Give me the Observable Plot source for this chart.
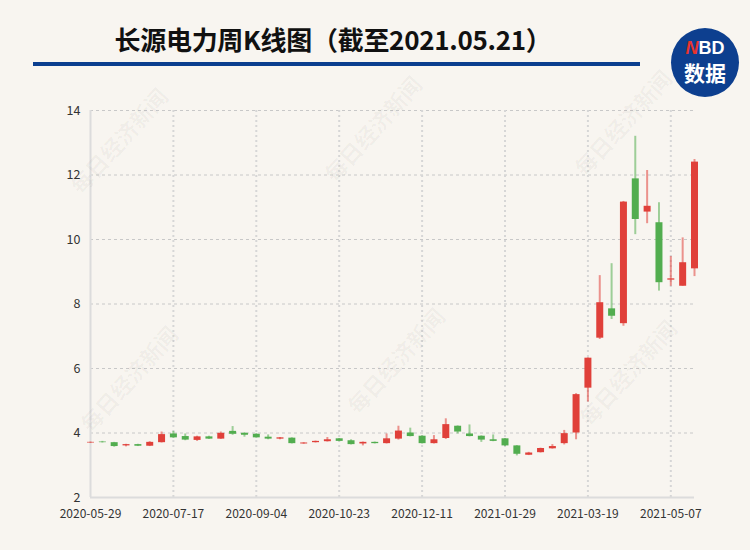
<!DOCTYPE html>
<html>
<head>
<meta charset="utf-8">
<script src="https://cdn.jsdelivr.net/npm/d3@7"></script>
<script src="https://cdn.jsdelivr.net/npm/@observablehq/plot@0.6"></script>
<style>
  html, body { margin: 0; padding: 0; }
  body { width: 750px; height: 550px; background: #f8f5f0; font-family: "Noto Sans CJK SC", "Noto Sans", sans-serif; }
  #wrap { position: relative; width: 750px; height: 550px; overflow: hidden; background: #f8f5f0; }
  #title { position: absolute; left: 0; width: 666px; top: 20px; text-align: center; font-size: 26px; font-weight: bold; color: #111; letter-spacing: -0.3px; }
  #rule { position: absolute; left: 33px; width: 607px; top: 62px; height: 4px; background: #0b3f8f; }
  #logo { position: absolute; left: 671px; top: 28px; width: 68px; height: 69px; border-radius: 50%; background: #0d3f8f; color: #fff; text-align: center; font-weight: bold; }
  #logo .nbd { position: absolute; top: 11px; left: 0; width: 68px; font-size: 18px; line-height: 18px; height: 18px; font-family: "Liberation Sans", sans-serif; }
  #logo .nbd span { color: #e8342c; font-style: italic; }
  #logo .sj { position: absolute; top: 33px; left: 0; width: 68px; font-size: 21px; line-height: 22px; height: 22px; }
  .wm { position: absolute; font-size: 22px; font-weight: bold; color: rgba(0,0,0,0.04); transform: translate(-50%, -50%) rotate(-48deg); white-space: nowrap; pointer-events: none; }
  #chart { position: absolute; left: 0; top: 95px; }
</style>
</head>
<body>
<div id="wrap">
  <div id="title">长源电力周K线图（截至2021.05.21）</div>
  <div id="rule"></div>
  <div id="logo"><div class="nbd"><span>N</span>BD</div><div class="sj">数据</div></div>
  <div id="chart"></div>
</div>
<script>
// Weekly dates (Friday)
const dates = [
  "2020-05-29","2020-06-05","2020-06-12","2020-06-19","2020-06-26","2020-07-03","2020-07-10","2020-07-17",
  "2020-07-24","2020-07-31","2020-08-07","2020-08-14","2020-08-21","2020-08-28","2020-09-04","2020-09-11",
  "2020-09-18","2020-09-25","2020-10-02","2020-10-09","2020-10-16","2020-10-23","2020-10-30","2020-11-06",
  "2020-11-13","2020-11-20","2020-11-27","2020-12-04","2020-12-11","2020-12-18","2020-12-25","2021-01-01",
  "2021-01-08","2021-01-15","2021-01-22","2021-01-29","2021-02-05","2021-02-12","2021-02-19","2021-02-26",
  "2021-03-05","2021-03-12","2021-03-19","2021-03-26","2021-04-02","2021-04-09","2021-04-16","2021-04-23",
  "2021-04-30","2021-05-07","2021-05-14","2021-05-21"
];
const opens = [
  3.69,3.72,3.70,3.60,3.64,3.59,3.70,3.97,3.89,3.77,3.88,3.81,4.05,3.99,3.96,3.87,
  3.81,3.84,3.66,3.70,3.73,3.82,3.76,3.66,3.71,3.67,3.81,4.00,3.90,3.67,3.83,4.21,
  3.97,3.90,3.79,3.82,3.60,3.31,3.39,3.51,3.67,4.00,5.39,6.94,7.85,7.39,11.88,10.85,
  10.52,8.74,8.55,9.09
];
const closes = [
  3.71,3.70,3.58,3.64,3.59,3.71,3.95,3.85,3.78,3.88,3.81,3.99,3.96,3.93,3.85,3.81,
  3.85,3.67,3.69,3.74,3.79,3.74,3.64,3.71,3.67,3.82,4.06,3.89,3.67,3.79,4.26,4.03,
  3.89,3.78,3.74,3.60,3.34,3.38,3.52,3.58,3.98,5.19,6.32,8.04,7.62,11.16,10.62,11.03,
  8.66,8.78,9.28,12.40
];
const highs = [
  3.72,3.74,3.71,3.65,3.65,3.73,4.03,4.05,3.97,3.90,3.90,4.03,4.20,4.01,3.98,3.94,
  3.86,3.85,3.70,3.75,3.86,3.83,3.79,3.72,3.72,3.97,4.21,4.15,3.91,3.92,4.44,4.22,
  4.25,3.91,3.94,3.83,3.61,3.40,3.53,3.64,4.08,5.22,6.33,8.88,9.25,11.18,13.20,12.14,
  11.14,9.47,10.05,12.48
];
const lows = [
  3.68,3.69,3.56,3.57,3.58,3.58,3.69,3.83,3.76,3.74,3.80,3.80,3.93,3.87,3.84,3.79,
  3.79,3.66,3.65,3.69,3.72,3.73,3.63,3.60,3.66,3.66,3.78,3.88,3.66,3.66,3.80,3.97,
  3.88,3.71,3.73,3.58,3.29,3.30,3.38,3.50,3.63,3.79,4.96,6.90,7.52,7.31,10.15,10.49,
  8.40,8.55,8.55,8.85
];
const tickLabels = ["2020-05-29","2020-07-17","2020-09-04","2020-10-23","2020-12-11","2021-01-29","2021-03-19","2021-05-07"];
const yTicks = [2,4,6,8,10,12,14];

const parse = d3.utcParse("%Y-%m-%d");
const data = dates.map((d, i) => ({
  date: parse(d), open: opens[i], close: closes[i], high: highs[i], low: lows[i]
}));
const tickDates = tickLabels.map(parse);
const UP = "#e0403a", DOWN = "#52ad4f";
const col = d => d.close >= d.open ? UP : DOWN;

const chart = Plot.plot({
  width: 750,
  height: 430,
  marginLeft: 90,
  marginRight: 56,
  marginTop: 15,
  marginBottom: 28,
  style: { background: "transparent", fontFamily: "'Noto Sans CJK SC', 'Noto Sans', sans-serif", fontSize: "12px", color: "#333" },
  x: { type: "utc", domain: [data[0].date, data[data.length - 1].date], label: null },
  y: { domain: [2, 14], label: null },
  marks: [
    Plot.gridY(yTicks.slice(1), { stroke: "#c8c8c8", strokeOpacity: 1, strokeDasharray: "3,3" }),
    Plot.gridX(tickDates.slice(1), { stroke: "#d6d6d6", strokeOpacity: 1, strokeWidth: 2, strokeDasharray: "2,3" }),
    Plot.ruleX([data[0].date], { y1: 2, y2: 14, stroke: "#dcdcdc", strokeWidth: 2 }),
    Plot.ruleY([2], { stroke: "#dcdcdc", strokeWidth: 2 }),
    Plot.ruleX(data, { x: "date", y1: "low", y2: "high", stroke: col, strokeWidth: 2, strokeOpacity: 0.55 }),
    Plot.ruleX(data, { x: "date", y1: "open", y2: "close", stroke: col, strokeWidth: 7 }),
    Plot.axisY({ ticks: yTicks, tickSize: 0, tickPadding: 10, fontSize: 12.5 }),
    Plot.axisX({ ticks: tickDates, tickSize: 0, tickPadding: 12, tickFormat: d3.utcFormat("%Y-%m-%d"), fontSize: 12 })
  ]
});
document.getElementById("chart").appendChild(chart);

// watermarks
const wm = [[118,140],[372,128],[622,122],[128,378],[395,360],[627,372]];
const wrap = document.getElementById("wrap");
wm.forEach(([x, y]) => {
  const s = document.createElement("div");
  s.className = "wm";
  s.textContent = "每日经济新闻";
  s.style.left = x + "px";
  s.style.top = y + "px";
  wrap.appendChild(s);
});
</script>
</body>
</html>
